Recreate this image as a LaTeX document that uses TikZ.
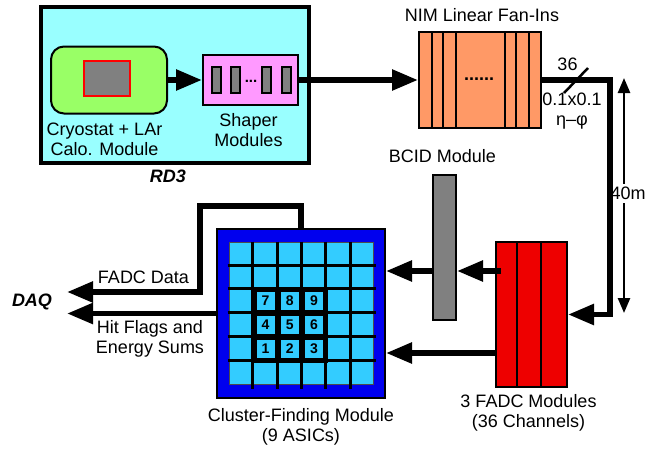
\documentclass[tikz,border=0pt]{standalone}
\usepackage{fontspec}
\setmainfont{Liberation Sans}
\usepackage{tikz}
\definecolor{rdcyan}{RGB}{153,255,255}
\definecolor{calogreen}{RGB}{153,255,102}
\definecolor{shaperpink}{RGB}{255,153,255}
\definecolor{nimorange}{RGB}{255,153,102}
\definecolor{fadcred}{RGB}{238,0,0}
\definecolor{asicblue}{RGB}{0,0,238}
\definecolor{cellblue}{RGB}{51,204,255}
\definecolor{slotgray}{RGB}{128,128,128}
\usetikzlibrary{arrows.meta,positioning,calc}

\begin{document}
\begin{tikzpicture}[x=1pt, y=-1pt,
    font=\fontsize{18}{20}\selectfont,
    module/.style={rectangle, draw=black, line width=2pt, inner sep=0pt},
    slot/.style={rectangle, draw=black, line width=2pt, fill=slotgray, minimum width=9pt, minimum height=26pt, inner sep=0pt},
    bus/.style={line width=5.5pt, -{Triangle[length=26pt,width=20pt]}},
    caption/.style={align=center, inner sep=0pt},
    tag/.style={inner sep=0pt, font=\fontsize{18}{20}\selectfont\bfseries\itshape},
    cell/.style={rectangle, fill=cellblue, minimum size=18pt, inner sep=0pt, font=\fontsize{14}{14}\selectfont\bfseries}
]
\useasboundingbox (0,0) rectangle (647,450);

% RD3 set-up
\node[module, line width=3.5pt, fill=rdcyan, minimum width=268pt, minimum height=156pt] (rd3) at (175,85) {};
\node[tag] (rdlabel) at (168,176.5) {RD3};

\node[module, rounded corners=13pt, fill=calogreen, minimum width=116pt, minimum height=67pt] (calo) at (109,80) {};
\node[rectangle, draw=red, line width=2pt, fill=slotgray, minimum width=46pt, minimum height=35pt, inner sep=0pt] (lar) at (107,78.5) {};
\node[caption, anchor=north] (calolabel) at (104.5,123) {Cryostat + LAr\\Calo. Module};

\node[module, fill=shaperpink, minimum width=95pt, minimum height=50pt] (shaper) at (250.5,80) {};
\foreach \sx/\sn in {216.5/1, 235.5/2, 266.5/3, 286/4}
  \node[slot] (slot\sn) at (\sx,80) {};
\node[anchor=base, inner sep=0pt, font=\fontsize{15}{15}\selectfont\bfseries] (slotdots) at (251,82) {...};
\node[caption, below=7pt of shaper, xshift=-2pt] (shaperlabel) {Shaper\\Modules};

% Fan-ins
\node[module, fill=nimorange, minimum width=122pt, minimum height=96pt] (nim) at (480,80) {};
\foreach \dx in {14,25,38,87,98,111}
  \draw[line width=2.5pt] ([xshift=\dx pt]nim.north west) -- ([xshift=\dx pt]nim.south west);
\node[anchor=base, inner sep=0pt, font=\fontsize{18}{20}\selectfont\bfseries] (nimdots) at (479,80) {......};
\node[caption, above=9pt of nim, xshift=2pt] (nimlabel) {NIM Linear Fan-Ins};

% BCID and FADCs
\node[module, fill=slotgray, minimum width=23pt, minimum height=145pt] (bcid) at (444.5,247.5) {};
\node[caption, above=11pt of bcid, xshift=-2pt] (bcidlabel) {BCID Module};

\node[module, fill=fadcred, minimum width=71pt, minimum height=145pt] (fadc) at (531.5,314.5) {};
\foreach \dx in {22,46}
  \draw[line width=2.5pt] ([xshift=\dx pt]fadc.north west) -- ([xshift=\dx pt]fadc.south west);
\node[caption, below=6pt of fadc, xshift=-3pt] (fadclabel) {3 FADC Modules\\(36 Channels)};

% Cluster finder
\node[module, fill=asicblue, minimum width=168pt, minimum height=169pt] (cluster) at (301,313.5) {};
\node[rectangle, draw=black!70, line width=1pt, fill=cellblue, minimum width=144pt, minimum height=142pt, inner sep=0pt] (tower) at (301,313) {};
\foreach \k in {1,...,5} {
  \draw[line width=3pt] ($(tower.north west)+(24.3*\k,0)$) -- ++(0,147);
  \draw[line width=3pt] ($(tower.north west)+(-1,23.7*\k)$) -- ++(148,0);
}
\fill ($(tower.north west)+(22,45)$) rectangle ($(tower.north west)+(99,121)$);
\foreach \n/\i/\j in {7/0/0, 8/1/0, 9/2/0, 4/0/1, 5/1/1, 6/2/1, 1/0/2, 2/1/2, 3/2/2}
  \node[cell] (asic\n) at ($(tower.north west)+(37+24.3*\i,59+24*\j)$) {\n};
\node[caption, below=9pt of cluster] (clusterlabel) {Cluster-Finding Module\\(9 ASICs)};

% Cable length
\coordinate (lentop) at (624,78);
\coordinate (lenbot) at (624,313);
\draw[line width=2.5pt, {Triangle[length=15pt,width=12pt]}-{Triangle[length=15pt,width=12pt]}] (lentop) -- (lenbot)
  node[midway, fill=white, inner xsep=0pt, inner ysep=3pt, xshift=4pt, yshift=2pt] (len) {40m};

% Signal path
\draw[bus] (calo) -- (shaper);
\draw[bus] (shaper) -- (nim);
\draw[bus] (nim.east) -- ++(68,0) |- (fadc.east);
\draw[line width=2.5pt] ($(nim.east)+(22,13)$) -- ++(24,-25);
\node[caption] (nchan) at (567.5,64) {36};
\node[caption, anchor=north] (gran) at (572,93) {0.1x0.1\\η–φ};

\coordinate (row1) at (0,271);
\coordinate (row2) at (0,353);
\draw[bus] ($(fadc.west |- row1)+(6,0)$) -- (bcid.east |- row1);
\draw[bus] (bcid.west |- row1) -- (cluster.east |- row1);
\draw[bus] (fadc.west |- row2) -- (cluster.east |- row2);

% Read-out
\coordinate (daq1) at (67,292);
\coordinate (daq2) at (67,313.5);
\draw[bus] (cluster.north) -- ++(0,-22) -| ($(daq1)+(133,0)$) -- (daq1);
\draw[bus] (cluster.west) -- (daq2);
\node[tag] (daq) at (32,302) {DAQ};
\node[caption] (fadcdata) at (143.5,277.5) {FADC Data};
\node[caption, anchor=north] (hitflags) at (150,320) {Hit Flags and\\Energy Sums};

\end{tikzpicture}
\end{document}
